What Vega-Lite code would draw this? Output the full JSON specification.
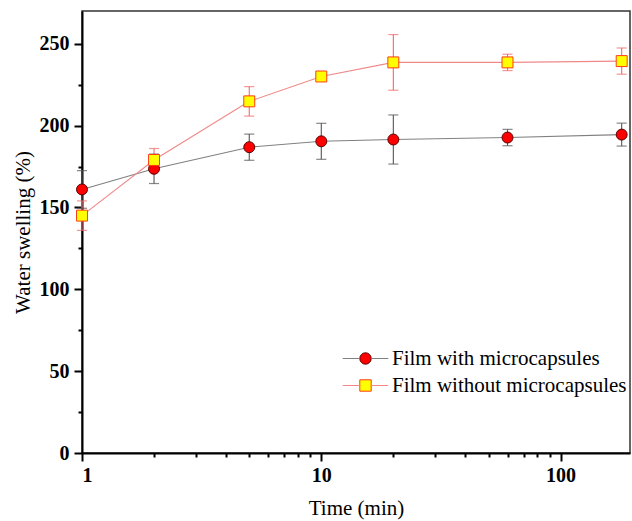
{
  "$schema": "https://vega.github.io/schema/vega-lite/v6.json",
  "width": 548,
  "height": 442,
  "autosize": {"type": "none"},
  "padding": {"left": 82, "top": 11, "right": 2, "bottom": 68},
  "background": "white",
  "config": {
    "view": {"stroke": "#333", "strokeWidth": 1.5},
    "font": "Liberation Serif",
    "axis": {"grid": false, "domainColor": "black", "domainWidth": 2, "tickColor": "black", "tickWidth": 2, "labelColor": "black", "titleColor": "black", "labelFont": "Liberation Serif", "titleFont": "Liberation Serif"},
    "legend": {"labelFont": "Liberation Serif"}
  },
  "data": {
    "values": [
      {"series": "Film with microcapsules", "t": 1, "v": 161, "lo": 149.5, "hi": 172.5},
      {"series": "Film with microcapsules", "t": 2, "v": 173.6, "lo": 164.6, "hi": 182.6},
      {"series": "Film with microcapsules", "t": 5, "v": 186.8, "lo": 178.8, "hi": 194.8},
      {"series": "Film with microcapsules", "t": 10, "v": 190.4, "lo": 179.4, "hi": 201.4},
      {"series": "Film with microcapsules", "t": 20, "v": 191.5, "lo": 176.5, "hi": 206.5},
      {"series": "Film with microcapsules", "t": 60, "v": 192.7, "lo": 187.7, "hi": 197.7},
      {"series": "Film with microcapsules", "t": 180, "v": 194.5, "lo": 187.5, "hi": 201.5},
      {"series": "Film without microcapsules", "t": 1, "v": 145, "lo": 136, "hi": 154},
      {"series": "Film without microcapsules", "t": 2, "v": 179, "lo": 172, "hi": 186},
      {"series": "Film without microcapsules", "t": 5, "v": 214.8, "lo": 205.8, "hi": 223.8},
      {"series": "Film without microcapsules", "t": 10, "v": 230, "lo": 228, "hi": 232},
      {"series": "Film without microcapsules", "t": 20, "v": 238.6, "lo": 221.6, "hi": 255.6},
      {"series": "Film without microcapsules", "t": 60, "v": 238.6, "lo": 233.6, "hi": 243.6},
      {"series": "Film without microcapsules", "t": 180, "v": 239.4, "lo": 231.4, "hi": 247.4}
    ]
  },
  "resolve": {
    "scale": {"stroke": "independent"},
    "axis": {"x": "independent", "y": "independent"},
    "legend": {"stroke": "independent"}
  },
  "layer": [
    {
      "mark": {"type": "rule", "strokeWidth": 1.1},
      "encoding": {
        "x": {"field": "t", "type": "quantitative", "scale": {"type": "log", "domain": [1, 195], "nice": false},
              "axis": {"orient": "bottom", "values": [2, 3, 4, 5, 6, 7, 8, 9, 20, 30, 40, 50, 60, 70, 80, 90], "labels": false, "domain": false, "tickSize": 4, "title": null}},
        "y": {"field": "lo", "type": "quantitative", "scale": {"domain": [0, 270], "nice": false},
              "axis": {"orient": "left", "values": [25, 75, 125, 175, 225], "labels": false, "domain": false, "tickSize": 4, "title": null}},
        "y2": {"field": "hi"},
        "stroke": {"field": "series", "type": "nominal", "scale": {"domain": ["Film with microcapsules", "Film without microcapsules"], "range": ["#555555", "#f06a6a"]}, "legend": null}
      }
    },
    {
      "mark": {"type": "tick", "orient": "horizontal", "size": 9, "thickness": 0.1, "fill": "transparent", "strokeWidth": 1.1},
      "encoding": {
        "x": {"field": "t", "type": "quantitative", "scale": {"type": "log", "domain": [1, 195], "nice": false}, "axis": null},
        "y": {"field": "lo", "type": "quantitative", "scale": {"domain": [0, 270], "nice": false}, "axis": null},
        "stroke": {"field": "series", "type": "nominal", "scale": {"domain": ["Film with microcapsules", "Film without microcapsules"], "range": ["#555555", "#f06a6a"]}, "legend": null}
      }
    },
    {
      "mark": {"type": "tick", "orient": "horizontal", "size": 9, "thickness": 0.1, "fill": "transparent", "strokeWidth": 1.1},
      "encoding": {
        "x": {"field": "t", "type": "quantitative", "scale": {"type": "log", "domain": [1, 195], "nice": false}, "axis": null},
        "y": {"field": "hi", "type": "quantitative", "scale": {"domain": [0, 270], "nice": false}, "axis": null},
        "stroke": {"field": "series", "type": "nominal", "scale": {"domain": ["Film with microcapsules", "Film without microcapsules"], "range": ["#555555", "#f06a6a"]}, "legend": null}
      }
    },
    {
      "mark": {"type": "line", "strokeWidth": 1.1},
      "encoding": {
        "x": {"field": "t", "type": "quantitative", "scale": {"type": "log", "domain": [1, 195], "nice": false},
              "axis": {"orient": "bottom", "values": [1, 10, 100], "format": "d", "tickSize": 8, "labelFontSize": 20, "labelFontWeight": "bold", "labelPadding": 4, "title": "Time (min)", "titleFontSize": 21, "titleFontWeight": "normal", "titlePadding": 12}},
        "y": {"field": "v", "type": "quantitative", "scale": {"domain": [0, 270], "nice": false},
              "axis": {"orient": "left", "values": [0, 50, 100, 150, 200, 250], "tickSize": 8, "labelFontSize": 20, "labelFontWeight": "bold", "labelPadding": 5, "title": "Water swelling (%)", "titleFontSize": 21, "titleFontWeight": "normal", "titlePadding": 6}},
        "stroke": {"field": "series", "type": "nominal", "scale": {"domain": ["Film with microcapsules", "Film without microcapsules"], "range": ["#808080", "#f08888"]},
                   "legend": {"orient": "none", "legendX": 273, "legendY": 337, "title": null, "padding": 0, "symbolType": "M-4,0H-1M1,0H4", "symbolSize": 130, "symbolStrokeWidth": 1.1, "labelFontSize": 21, "labelOffset": 16, "labelLimit": 400, "labelColor": "black", "rowPadding": 5}}
      }
    },
    {
      "mark": {"type": "point", "filled": false, "opacity": 1, "size": 120, "strokeWidth": 1},
      "encoding": {
        "x": {"field": "t", "type": "quantitative", "scale": {"type": "log", "domain": [1, 195], "nice": false}, "axis": null},
        "y": {"field": "v", "type": "quantitative", "scale": {"domain": [0, 270], "nice": false}, "axis": null},
        "fill": {"field": "series", "type": "nominal", "scale": {"domain": ["Film with microcapsules", "Film without microcapsules"], "range": ["#ff0000", "#ffff00"]},
                 "legend": {"orient": "none", "legendX": 273, "legendY": 337, "title": null, "padding": 0, "symbolSize": 130, "symbolStrokeWidth": 1, "labelFontSize": 21, "labelOffset": 16, "labelLimit": 400, "labelColor": "black", "labelExpr": "''", "rowPadding": 5}},
        "shape": {"field": "series", "type": "nominal", "scale": {"domain": ["Film with microcapsules", "Film without microcapsules"], "range": ["circle", "square"]},
                 "legend": {"orient": "none", "legendX": 273, "legendY": 337, "title": null, "padding": 0, "symbolSize": 130, "symbolStrokeWidth": 1, "labelFontSize": 21, "labelOffset": 16, "labelLimit": 400, "labelColor": "black", "labelExpr": "''", "rowPadding": 5}},
        "color": {"field": "series", "type": "nominal", "scale": {"domain": ["Film with microcapsules", "Film without microcapsules"], "range": ["#5a0000", "#ff3c14"]},
                 "legend": {"orient": "none", "legendX": 273, "legendY": 337, "title": null, "padding": 0, "symbolSize": 130, "symbolStrokeWidth": 1, "labelFontSize": 21, "labelOffset": 16, "labelLimit": 400, "labelColor": "black", "labelExpr": "''", "rowPadding": 5}}
      }
    }
  ]
}
